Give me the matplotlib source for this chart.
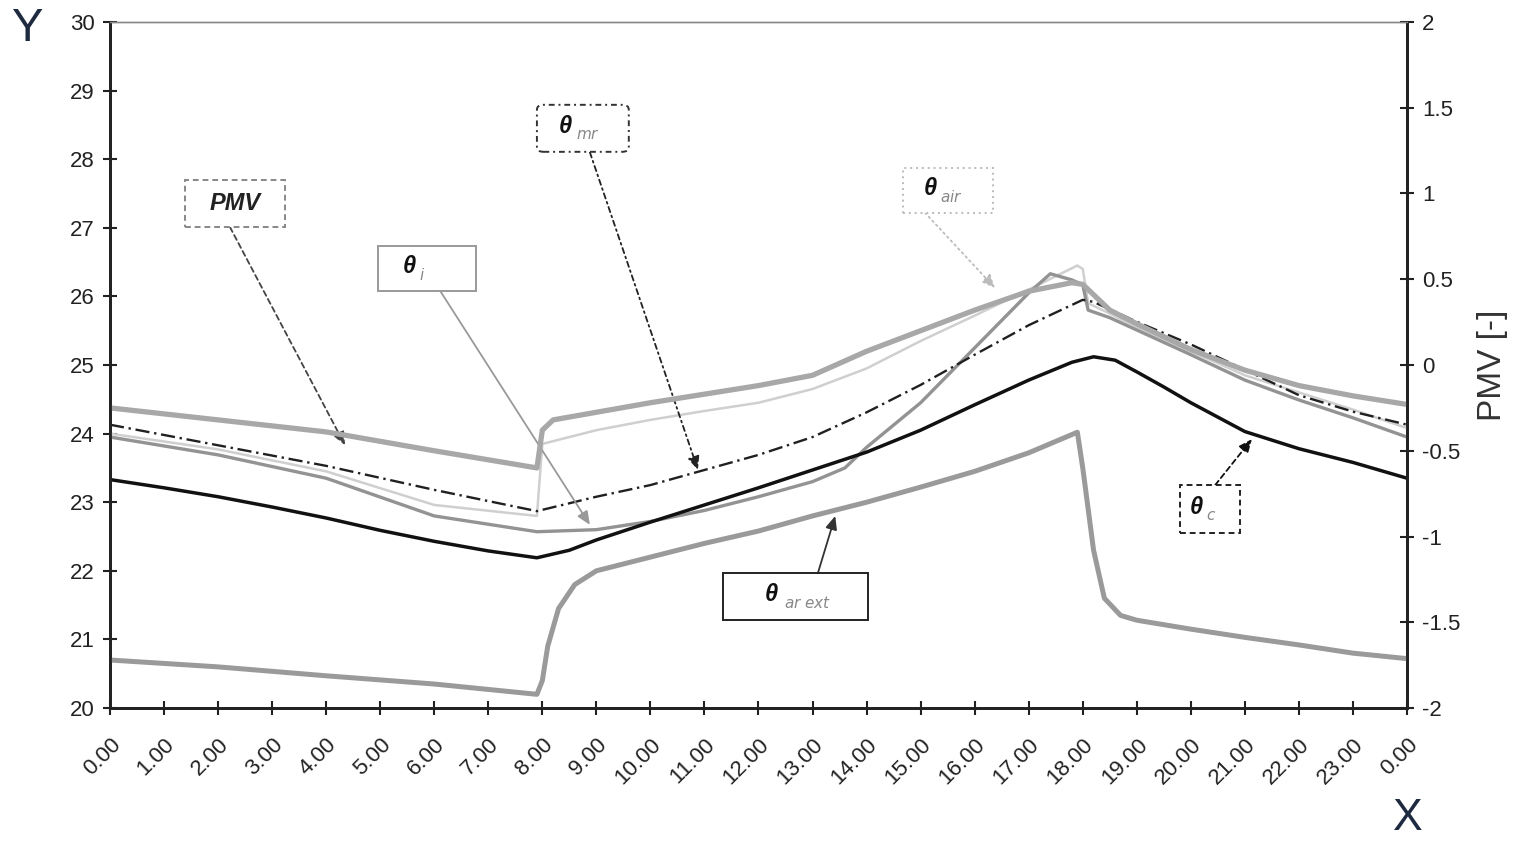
import matplotlib
matplotlib.use("Agg")
import matplotlib.pyplot as plt
from matplotlib.patches import FancyBboxPatch

plt.rcParams["font.family"] = ["Liberation Sans", "DejaVu Sans"]

# hourly profiles, temperatures in deg C (left axis), PMV on right axis
hours_c = [0, 1, 2, 3, 4, 5, 6, 7, 7.9, 8.5, 9, 10, 11, 12, 13, 14, 15, 16, 17,
           17.8, 18.2, 18.6, 19, 19.5, 20, 21, 22, 23, 24]
theta_c = [23.33, 23.21, 23.08, 22.93, 22.77, 22.59, 22.43, 22.29, 22.19, 22.30,
           22.45, 22.71, 22.96, 23.21, 23.47, 23.73, 24.05, 24.42, 24.78,
           25.04, 25.12, 25.07, 24.90, 24.68, 24.45, 24.03, 23.78, 23.58, 23.35]

hours_mr = [0, 2, 4, 6, 7.9, 9, 10, 11, 12, 13, 14, 15, 16, 17, 18, 18.2,
            19, 20, 21, 22, 23, 24]
theta_mr = [24.13, 23.83, 23.53, 23.18, 22.87, 23.08, 23.25, 23.47, 23.69, 23.95,
            24.31, 24.71, 25.15, 25.58, 25.95, 25.92, 25.63, 25.30, 24.93,
            24.56, 24.32, 24.13]

hours_i = [0, 2, 4, 6, 7.9, 9, 10, 11, 12, 13, 13.6, 14, 15, 16, 17, 17.4, 17.8,
           18, 18.1, 18.5, 19, 20, 21, 22, 23, 24]
theta_i = [23.95, 23.69, 23.35, 22.80, 22.57, 22.60, 22.72, 22.88, 23.08, 23.30,
           23.50, 23.80, 24.45, 25.25, 26.05, 26.33, 26.24, 26.17, 25.80, 25.69,
           25.51, 25.15, 24.78, 24.49, 24.23, 23.95]

hours_air = [0, 2, 4, 6, 7.9, 8.0, 9, 10, 11, 12, 13, 14, 15, 16, 17, 17.9, 18.0,
             18.1, 18.5, 19, 20, 21, 22, 23, 24]
theta_air = [24.00, 23.77, 23.45, 22.96, 22.80, 23.85, 24.05, 24.20, 24.33, 24.45,
             24.65, 24.95, 25.35, 25.72, 26.10, 26.45, 26.40, 25.90, 25.75, 25.55,
             25.20, 24.85, 24.60, 24.35, 24.08]

hours_ext = [0, 2, 4, 6, 7.9, 8.0, 8.1, 8.3, 8.6, 9, 10, 11, 12, 13, 14, 15, 16,
             17, 17.9, 18.0, 18.2, 18.4, 18.7, 19, 20, 21, 22, 23, 24]
theta_ar_ext = [20.70, 20.60, 20.47, 20.35, 20.20, 20.40, 20.90, 21.45, 21.80,
                22.00, 22.20, 22.40, 22.58, 22.80, 23.00, 23.22, 23.45, 23.72,
                24.02, 23.50, 22.30, 21.60, 21.35, 21.28, 21.15, 21.03, 20.92,
                20.80, 20.72]

hours_pmv = [0, 2, 4, 6, 7.9, 8.0, 8.2, 10, 12, 13, 14, 15, 16, 17, 17.8, 18,
             18.5, 19, 20, 21, 22, 23, 24]
pmv = [-0.25, -0.32, -0.39, -0.50, -0.60, -0.38, -0.32, -0.22, -0.12, -0.06,
       0.08, 0.20, 0.32, 0.43, 0.48, 0.47, 0.32, 0.24, 0.09, -0.03, -0.12,
       -0.18, -0.23]

xtick_labels = [f"{h}.00" for h in range(24)] + ["0.00"]
pmv_ticks = [-2, -1.5, -1, -0.5, 0, 0.5, 1, 1.5, 2]

fig = plt.figure(figsize=(15.17, 8.42), dpi=100)
ax = fig.add_axes([0.0725, 0.1591, 0.855, 0.8148])
ax2 = ax.twinx()

ax.plot(hours_ext, theta_ar_ext, color="#9a9a9a", lw=3.6, zorder=3)
ax.plot(hours_air, theta_air, color="#cfcfcf", lw=1.8, zorder=3)
ax.plot(hours_i, theta_i, color="#939393", lw=2.4, zorder=3)
ax.plot(hours_mr, theta_mr, color="#202020", lw=1.7, ls=(0, (6, 2, 1, 2)), zorder=4)
ax.plot(hours_c, theta_c, color="#111111", lw=2.5, zorder=4)
ax2.plot(hours_pmv, pmv, color="#a8a8a8", lw=3.8, zorder=2)

ax.set_xlim(0, 24)
ax.set_ylim(20, 30)
ax2.set_ylim(-2, 2)
ax.set_xticks(range(25))
ax.set_xticklabels(xtick_labels, rotation=45, ha="right", va="top",
                   rotation_mode="anchor")
ax.set_yticks(range(20, 31))
ax2.set_yticks(pmv_ticks)
ax2.set_yticklabels([f"{v:g}" for v in pmv_ticks])

for a in (ax, ax2):
    a.tick_params(direction="inout", length=10, width=1.5, labelsize=16,
                  colors="#222222", pad=6)
    for side in ("left", "right", "bottom"):
        a.spines[side].set_linewidth(2)
        a.spines[side].set_color("#222222")
    a.spines["top"].set_linewidth(1)
    a.spines["top"].set_color("#888888")
ax.tick_params(axis="x", pad=14)

ax2.set_ylabel("PMV [-]", fontsize=24, color="#333333", labelpad=12)
fig.text(0.008, 0.965, "Y", fontsize=34, color="#1e2a40", va="center")
fig.text(0.928, 0.028, "X", fontsize=32, color="#1e2a40", va="center", ha="center")


def callout(label, center, size, start, target, ls, ec, arrow_color,
            rounded=False, sub_color="#888888"):
    cx, cy = center
    w, h = size
    style = "round,pad=0,rounding_size=0.12" if rounded else "square,pad=0"
    box = FancyBboxPatch((cx - w / 2, cy - h / 2), w, h, boxstyle=style,
                         fc="white", ec=ec, lw=1.4, ls=ls, zorder=6,
                         mutation_aspect=0.6)
    ax.add_patch(box)
    if label == "PMV":
        ax.text(cx, cy, "PMV", fontsize=17, fontweight="bold", style="italic",
                ha="center", va="center", color="#222222", zorder=7)
    else:
        ax.text(cx - 0.12 * w, cy + 0.03, "θ", fontsize=17, fontweight="bold",
                style="italic", ha="right", va="center", color="#111111", zorder=7)
        ax.text(cx - 0.08 * w, cy - 0.1, "$" + label + "$", fontsize=11,
                ha="left", va="center", color=sub_color, zorder=7)
    ax.annotate("", xy=target, xytext=start, zorder=5,
                arrowprops=dict(arrowstyle="-|>,head_length=0.8,head_width=0.35",
                                color=arrow_color, lw=1.3, ls=ls,
                                shrinkA=0, shrinkB=0))


callout("PMV", (2.31, 27.36), (1.85, 0.685), (2.22, 27.01), (4.35, 23.83),
        (0, (3, 2)), "#888888", "#444444")
callout("i", (5.87, 26.41), (1.81, 0.656), (6.11, 26.08), (8.88, 22.67),
        "-", "#999999", "#999999")
callout("mr", (8.75, 28.45), (1.70, 0.685), (8.88, 28.10), (10.88, 23.47),
        (0, (3, 2, 1, 2)), "#333333", "#222222", rounded=True)
callout("air", (15.5, 27.55), (1.67, 0.656), (15.08, 27.22), (16.38, 26.12),
        (0, (1, 2)), "#bbbbbb", "#bbbbbb")
callout("ar\\ ext", (12.68, 21.63), (2.68, 0.685), (13.1, 21.97), (13.42, 22.80),
        "-", "#222222", "#333333")
callout("c", (20.36, 22.9), (1.11, 0.70), (20.45, 23.25), (21.13, 23.92),
        (0, (3, 2)), "#222222", "#111111")

fig.savefig("out.png", dpi=100)
